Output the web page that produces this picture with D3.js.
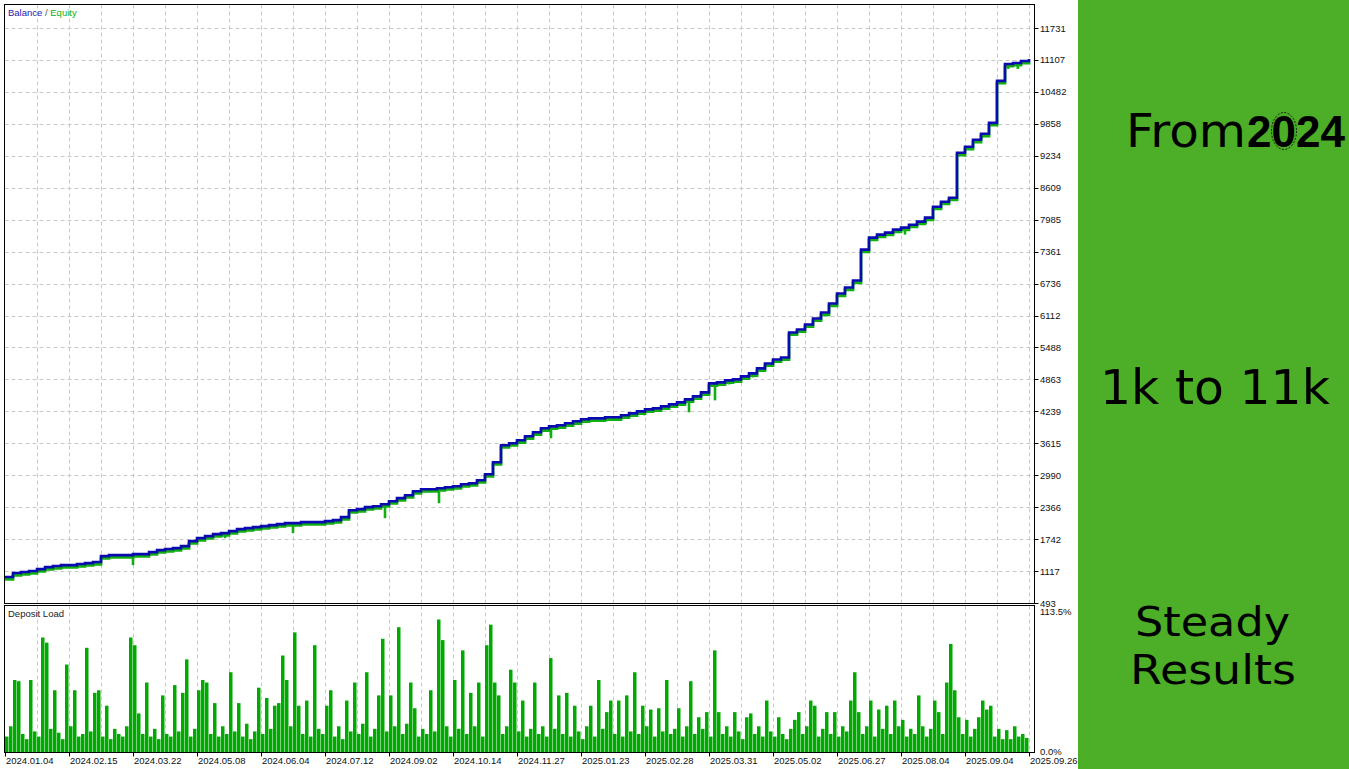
<!DOCTYPE html>
<html><head><meta charset="utf-8">
<script src="https://cdn.jsdelivr.net/npm/d3@7"></script>
<style>
html,body{margin:0;padding:0;background:#fff;}
svg{display:block;}
</style></head>
<body>
<svg id="c" width="1349" height="769"></svg>
<script>
// ---------- DATA ----------
const balance = [1000,1078,1098,1117,1156,1195,1215,1234,1234,1254,1273,1293,1410,1429,1429,1429,1449,1449,1488,1527,1547,1566,1605,1703,1761,1800,1839,1859,1898,1937,1956,1976,1995,2015,2034,2054,2054,2073,2073,2073,2093,2112,2171,2307,2327,2366,2385,2424,2483,2542,2600,2678,2717,2717,2737,2756,2776,2815,2834,2893,3010,3244,3576,3615,3673,3751,3829,3907,3946,3966,4005,4044,4083,4102,4102,4122,4122,4161,4200,4239,4278,4297,4336,4375,4415,4473,4532,4610,4785,4805,4844,4863,4922,4980,5078,5175,5253,5292,5780,5839,5936,6053,6170,6346,6541,6658,6795,7400,7634,7692,7731,7790,7829,7887,7946,8024,8238,8336,8414,9292,9409,9546,9663,9877,10697,11028,11048,11087,11126];
// equity drawdown spikes: trade index and lowest equity reached there
const equityDipIndex = [16,27.5,36,47.5,54.25,68.25,79.9,85.5,88.75,90.5,93.5,112.5,115.1,122.1,125.4,126.6];
const equityDipLow   = [1234,1761,1859,2151,2444,3712,4161,4220,4454,4765,4902,7692,7907,9565,10931,10931];
const depositLoad = [12,20,56,55,14,10,56,16,12,89,85,18,48,15,10,68,20,48,12,14,81,16,46,48,12,36,10,18,14,12,20,89,83,30,14,54,12,18,10,44,14,12,52,16,46,72,12,18,48,56,54,14,38,12,20,14,62,16,38,12,22,10,16,50,14,42,18,36,38,75,56,20,93,36,14,40,12,83,18,14,36,48,12,20,10,40,16,54,14,22,62,12,18,44,88,16,44,20,97,14,22,54,34,12,18,14,48,16,103,87,20,12,56,18,79,14,46,20,54,12,83,99,54,44,14,20,64,54,16,40,12,18,54,14,20,12,73,18,44,14,46,12,36,16,10,20,36,12,56,18,31,40,14,40,12,44,16,62,14,36,20,33,12,34,16,56,14,18,34,12,20,55,14,27,18,31,12,79,31,14,20,12,31,16,10,27,30,14,20,12,40,16,12,27,14,10,18,25,31,14,20,40,36,12,18,31,14,31,12,20,16,40,62,31,14,20,40,12,33,18,36,14,40,20,25,12,18,14,44,20,12,18,40,31,14,54,84,48,27,14,25,12,18,27,40,33,36,12,18,10,17,10,20,12,14,11];
const yTicks = [493,1117,1742,2366,2990,3615,4239,4863,5488,6112,6736,7361,7985,8609,9234,9858,10482,11107,11731];
const dateLabels = ["2024.01.04","2024.02.15","2024.03.22","2024.05.08","2024.06.04","2024.07.12","2024.09.02","2024.10.14","2024.11.27","2025.01.23","2025.02.28","2025.03.31","2025.05.02","2025.06.27","2025.08.04","2025.09.04","2025.09.26"];
const loadMax = 113.5;

// ---------- LAYOUT ----------
const svg = d3.select("#c");
const L = 4.5, R = 1034.5;
const mainTop = 4.5, mainBot = 603.5;
const depTop = 605.5, depBot = 752.5;
const fontUI = "'Liberation Sans', Arial, sans-serif";
const gridCol = "#c8c8c8";

const x = d3.scaleLinear().domain([0, balance.length - 1]).range([5, 1029]);
const y = d3.scaleLinear().domain([493, 11731]).range([603, 28]);
const xd = d3.scalePoint().domain(dateLabels).range([5, 1029]);
const xb = d3.scaleLinear().domain([0, depositLoad.length]).range([5, 1029]);
const yl = d3.scaleLinear().domain([0, loadMax]).range([752, 606]);

const defs = svg.append("defs");
defs.append("clipPath").attr("id","mainClip").append("rect")
  .attr("x", L+0.5).attr("y", mainTop+0.5).attr("width", R-L-1).attr("height", mainBot-mainTop-1);
defs.append("clipPath").attr("id","depClip").append("rect")
  .attr("x", L+0.5).attr("y", depTop+0.5).attr("width", R-L-1).attr("height", depBot-depTop-1);

const step = xd.step();
const vgrid = [];
dateLabels.forEach((d, i) => { vgrid.push(xd(d)); if (i < dateLabels.length - 1) vgrid.push(xd(d) + step / 2); });

// ---------- MAIN PANEL ----------
const gMain = svg.append("g");
gMain.append("g").attr("clip-path","url(#mainClip)").selectAll("line").data(yTicks).join("line")
  .attr("x1", L).attr("x2", R).attr("y1", d => Math.round(y(d)) + 0.5).attr("y2", d => Math.round(y(d)) + 0.5)
  .attr("stroke", gridCol).attr("stroke-dasharray","4,3");
gMain.append("g").attr("clip-path","url(#mainClip)").selectAll("line").data(vgrid.filter(v => v > 10)).join("line")
  .attr("x1", d => Math.round(d) + 0.5).attr("x2", d => Math.round(d) + 0.5).attr("y1", mainTop).attr("y2", mainBot)
  .attr("stroke", gridCol).attr("stroke-dasharray","4,3");

const line = d3.line().x((d, i) => x(i)).y(d => y(d)).curve(d3.curveStepAfter);
const plot = gMain.append("g").attr("clip-path","url(#mainClip)");
plot.append("path").datum(balance).attr("d", line).attr("fill","none")
  .attr("stroke","#10b010").attr("stroke-width",2.8).attr("transform","translate(0,2.2)");
plot.selectAll("rect").data(equityDipIndex).join("rect")
  .attr("x", d => x(d) - 1.3).attr("width", 2.6)
  .attr("y", d => y(balance[Math.floor(d)]))
  .attr("height", (d, i) => y(equityDipLow[i]) - y(balance[Math.floor(d)]))
  .attr("fill","#10b010");
plot.append("path").datum(balance).attr("d", line).attr("fill","none")
  .attr("stroke","#0a0ab0").attr("stroke-width",2.6);

gMain.append("rect").attr("x", L).attr("y", mainTop).attr("width", R - L).attr("height", mainBot - mainTop)
  .attr("fill","none").attr("stroke","#000");

// right axis
const axisG = svg.append("g");
axisG.selectAll("line").data(yTicks).join("line")
  .attr("x1", R).attr("x2", R + 4).attr("y1", d => Math.round(y(d)) + 0.5).attr("y2", d => Math.round(y(d)) + 0.5)
  .attr("stroke","#000");
axisG.selectAll("text").data(yTicks).join("text")
  .attr("x", 1040).attr("y", d => y(d) + 3.5).text(d => d)
  .attr("font-family", fontUI).attr("font-size", 9.5).attr("fill","#111");

// legend
const leg = svg.append("text").attr("x", 8).attr("y", 16).attr("font-family", fontUI).attr("font-size", 9.5);
leg.append("tspan").text("Balance").attr("fill","#2323b0");
leg.append("tspan").text(" / ").attr("fill","#555");
leg.append("tspan").text("Equity").attr("fill","#10b010");

// ---------- DEPOSIT LOAD PANEL ----------
const gDep = svg.append("g");
gDep.append("g").attr("clip-path","url(#depClip)").selectAll("line").data(vgrid.filter(v => v > 10)).join("line")
  .attr("x1", d => Math.round(d) + 0.5).attr("x2", d => Math.round(d) + 0.5).attr("y1", depTop).attr("y2", depBot)
  .attr("stroke", gridCol).attr("stroke-dasharray","4,3");
gDep.append("g").attr("clip-path","url(#depClip)").selectAll("rect").data(depositLoad).join("rect")
  .attr("x", (d, i) => xb(i)).attr("width", 3.5)
  .attr("y", d => yl(d)).attr("height", d => 752 - yl(d))
  .attr("fill","#00aa00");
gDep.append("rect").attr("x", L).attr("y", depTop).attr("width", R - L).attr("height", depBot - depTop)
  .attr("fill","none").attr("stroke","#000");
gDep.append("text").attr("x", 8).attr("y", 617).text("Deposit Load")
  .attr("font-family", fontUI).attr("font-size", 9.5).attr("fill","#222");
gDep.append("text").attr("x", 1040).attr("y", 615).text(loadMax.toFixed(1) + "%")
  .attr("font-family", fontUI).attr("font-size", 9.5).attr("fill","#111");
gDep.append("text").attr("x", 1040).attr("y", 755).text("0.0%")
  .attr("font-family", fontUI).attr("font-size", 9.5).attr("fill","#111");

// date axis
const dG = svg.append("g");
dG.selectAll("line").data(dateLabels).join("line")
  .attr("x1", d => Math.round(xd(d)) + 0.5).attr("x2", d => Math.round(xd(d)) + 0.5)
  .attr("y1", depBot).attr("y2", depBot + 4).attr("stroke","#000");
dG.selectAll("text").data(dateLabels).join("text")
  .attr("x", d => xd(d) + 1).attr("y", 764).text(d => d)
  .attr("font-family", fontUI).attr("font-size", 9.5).attr("fill","#111");

// ---------- RIGHT GREEN PANEL ----------
const side = svg.append("g");
side.append("rect").attr("x", 1078).attr("y", 0).attr("width", 271).attr("height", 769).attr("fill","#4caf27");
const big = "'DejaVu Sans', sans-serif";
side.append("text").attr("x", 1126).attr("y", 147).text("From")
  .attr("font-family", big).attr("font-size", 46).attr("fill","#000")
  .attr("textLength", 120).attr("lengthAdjust","spacingAndGlyphs");
side.append("text").attr("x", 1247).attr("y", 147).text("2024")
  .attr("font-family", "'Liberation Sans', Arial, sans-serif").attr("font-weight","bold").attr("font-size", 44).attr("fill","#000");
side.append("ellipse").attr("cx", 1284).attr("cy", 131).attr("rx", 12.5).attr("ry", 18.5)
  .attr("fill","none").attr("stroke","#000").attr("stroke-width",0.8).attr("stroke-dasharray","2,1.5");
side.append("text").attr("x", 1100).attr("y", 404).text("1k to 11k")
  .attr("font-family", big).attr("font-size", 48).attr("fill","#000")
  .attr("textLength", 230).attr("lengthAdjust","spacingAndGlyphs");
side.append("text").attr("x", 1135).attr("y", 636).text("Steady")
  .attr("font-family", big).attr("font-size", 41).attr("fill","#000")
  .attr("textLength", 155).attr("lengthAdjust","spacingAndGlyphs");
side.append("text").attr("x", 1130).attr("y", 684).text("Results")
  .attr("font-family", big).attr("font-size", 41).attr("fill","#000")
  .attr("textLength", 166).attr("lengthAdjust","spacingAndGlyphs");
</script>
</body></html>
